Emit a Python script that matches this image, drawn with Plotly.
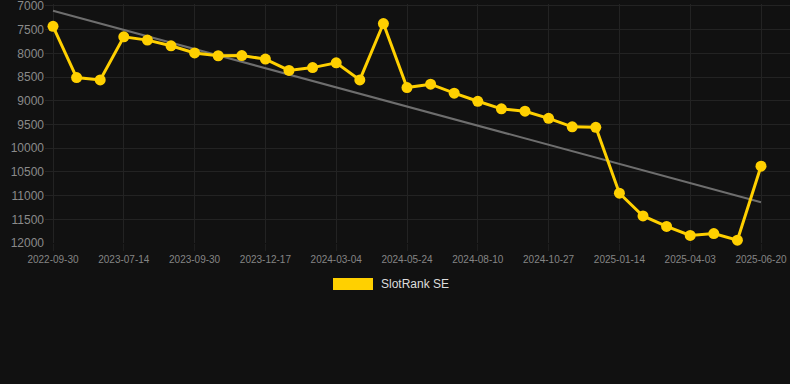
import plotly.graph_objects as go

dates = [
    "2022-09-30", "2023-05-22", "2023-06-18", "2023-07-14", "2023-08-09", "2023-09-04",
    "2023-09-30", "2023-10-26", "2023-11-21", "2023-12-17", "2024-01-12", "2024-02-07",
    "2024-03-04", "2024-03-31", "2024-04-27", "2024-05-24", "2024-06-19", "2024-07-15",
    "2024-08-10", "2024-09-05", "2024-10-01", "2024-10-27", "2024-11-22", "2024-12-18",
    "2025-01-14", "2025-02-09", "2025-03-07", "2025-04-03", "2025-04-29", "2025-05-25",
    "2025-06-20",
]
rank = [
    7430, 8510, 8560, 7650, 7720, 7840,
    7990, 8050, 8045, 8120, 8360, 8300,
    8200, 8560, 7370, 8720, 8650, 8840,
    9010, 9170, 9220, 9370, 9550, 9560,
    10950, 11430, 11650, 11840, 11800, 11940,
    10380,
]
tick_labels = dates[::3]
y_ticks = [7000, 7500, 8000, 8500, 9000, 9500, 10000, 10500, 11000, 11500, 12000]
y_tick_text = [str(v) for v in y_ticks]
trend_x = [dates[0], dates[-1]]
trend_y = [7100, 11140]

W, H = 790, 384
ML, MR, MT, MB = 45, 0, 4, 141
pw = W - ML - MR
ph = H - MT - MB

def px_x(p):
    return (p - ML) / pw

def px_y(p):
    return (H - MB - p) / ph

fig = go.Figure()
fig.add_trace(go.Scatter(
    x=trend_x, y=trend_y, mode="lines",
    line=dict(color="#6e6e6e", width=2),
    showlegend=False, hoverinfo="skip", cliponaxis=False,
))
fig.add_trace(go.Scatter(
    x=dates, y=rank, mode="lines+markers", name="SlotRank SE",
    line=dict(color="#ffd000", width=3),
    marker=dict(color="#ffd000", size=11),
    showlegend=False, cliponaxis=False,
))

fig.update_layout(
    width=W, height=H,
    margin=dict(l=ML, r=MR, t=MT, b=MB, autoexpand=False),
    paper_bgcolor="#111111",
    plot_bgcolor="#111111",
    font=dict(family="Liberation Sans, Arial, sans-serif", color="#8a8a8a"),
    xaxis=dict(
        type="category", categoryorder="array", categoryarray=dates,
        range=[-0.339, 31.229], automargin=False,
        tickvals=tick_labels, ticktext=tick_labels,
        showgrid=True, gridcolor="#232323", gridwidth=1,
        zeroline=False, showline=False,
        tickfont=dict(size=10, color="#858585"),
        ticks="outside", ticklen=7, tickcolor="#1e1e1e", tickwidth=1,
        ticklabeloverflow="allow",
    ),
    yaxis=dict(
        range=[12000, 6958], automargin=False,
        tickvals=y_ticks, ticktext=y_tick_text,
        showgrid=True, gridcolor="#232323", gridwidth=1,
        zeroline=False, showline=False,
        tickfont=dict(size=12, color="#8a8a8a"),
        ticks="", ticklen=0,
        ticklabeloverflow="allow",
    ),
    shapes=[dict(
        type="rect", xref="paper", yref="paper",
        x0=px_x(333), x1=px_x(373), y0=px_y(290), y1=px_y(278),
        fillcolor="#ffd000", line=dict(width=0),
    )],
    annotations=[dict(
        xref="paper", yref="paper", x=px_x(379), y=px_y(284),
        xanchor="left", yanchor="middle", showarrow=False,
        text="SlotRank SE", font=dict(size=12, color="#dddddd"),
    )],
)

fig.write_html(
    "out.html",
    config={"displayModeBar": False},
    post_script="document.body.style.margin='0';document.body.style.background='#111111';",
)
